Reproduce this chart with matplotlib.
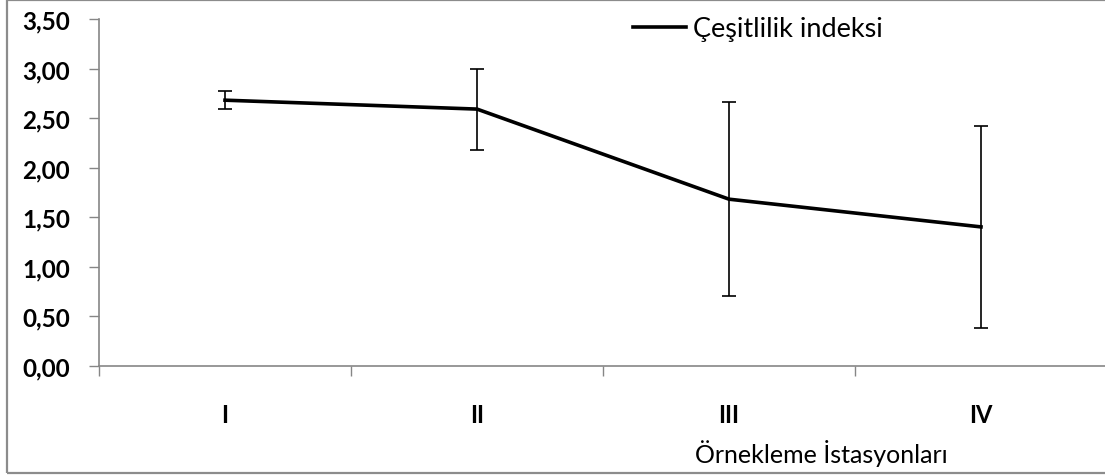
import matplotlib
matplotlib.use('Agg')
import matplotlib.pyplot as plt
from matplotlib.lines import Line2D
from matplotlib.patches import Rectangle
from matplotlib.ticker import FixedLocator, FuncFormatter
# ------------------------------ #

stations = ['I', 'II', 'III', 'IV']
diversityIndex = [2.68, 2.59, 1.68, 1.40]
errorValues = [0.09, 0.41, 0.98, 1.02]
yTicks = [0.0, 0.5, 1.0, 1.5, 2.0, 2.5, 3.0, 3.5]

seriesName = 'Çeşitlilik indeksi'
xLabel = 'Örnekleme İstasyonları'
# ------------------------------ #

def commaDecimal(value, pos) -> str:
	return f'{value:.2f}'.replace('.', ',')
# ------------------------------ #

def plotDiversityIndex() -> None:
	plt.rcParams['font.family'] = ['Lato', 'DejaVu Sans']
	axisGrey = '#868686'
	lineWidth = 2.6

	fig = plt.figure(figsize = (11.05, 4.77), dpi = 100)
	ax = fig.add_axes([99 / 1105, 110.5 / 477, 1008 / 1105, 346.5 / 477])

	xPos = list(range(1, len(stations) + 1))
	ax.errorbar(
		xPos, diversityIndex, yerr = errorValues,
		color = 'black', linewidth = lineWidth,
		ecolor = 'black', elinewidth = 1.2, capsize = 5, capthick = 1.2,
		zorder = 3
	)

	ax.set_xlim(0.5, len(stations) + 0.5)
	ax.set_ylim(yTicks[0], yTicks[-1])

	# category boundaries get the tick marks, centres carry the labels
	ax.xaxis.set_major_locator(FixedLocator([x + 0.5 for x in range(len(stations) + 1)]))
	ax.xaxis.set_minor_locator(FixedLocator(xPos))
	ax.set_xticklabels([], minor = False)
	ax.set_xticklabels(stations, minor = True, fontsize = 17, fontweight = 'bold')
	ax.tick_params(axis = 'x', which = 'major', direction = 'out', length = 7, width = 1, color = axisGrey)
	ax.tick_params(axis = 'x', which = 'minor', length = 0, pad = 27)

	ax.yaxis.set_major_locator(FixedLocator(yTicks))
	ax.yaxis.set_major_formatter(FuncFormatter(commaDecimal))
	ax.tick_params(axis = 'y', direction = 'out', length = 7, width = 1, color = axisGrey, pad = 14, labelsize = 17.5)
	for lbl in ax.get_yticklabels():
		lbl.set_fontweight('bold')

	for side in ['top', 'right']:
		ax.spines[side].set_visible(False)
	for side in ['left', 'bottom']:
		ax.spines[side].set_color(axisGrey)
		ax.spines[side].set_linewidth(1.2)

	ax.set_xlabel(xLabel, fontsize = 18)
	ax.xaxis.set_label_coords(0.717, -0.25)
	ax.xaxis.label.set_va('center')

	legendLine = Line2D([], [], color = 'black', linewidth = lineWidth)
	ax.legend(
		[legendLine], [seriesName],
		loc = 'center left', bbox_to_anchor = (633 / 1105, 1 - 30 / 477),
		bbox_transform = fig.transFigure, frameon = False, fontsize = 19.5,
		borderpad = 0, borderaxespad = 0, handlelength = 1.95, handletextpad = 0.28
	)

	# chart area border
	fig.patches.append(Rectangle(
		(7 / 1105, 3 / 477), 1.2, 473 / 477, transform = fig.transFigure,
		fill = False, edgecolor = '#8c8c8c', linewidth = 1.6
	))

	fig.savefig('out.png', dpi = 100)
# ------------------------------ #

if __name__ == '__main__':
	plotDiversityIndex()

# ------------------------------ #
